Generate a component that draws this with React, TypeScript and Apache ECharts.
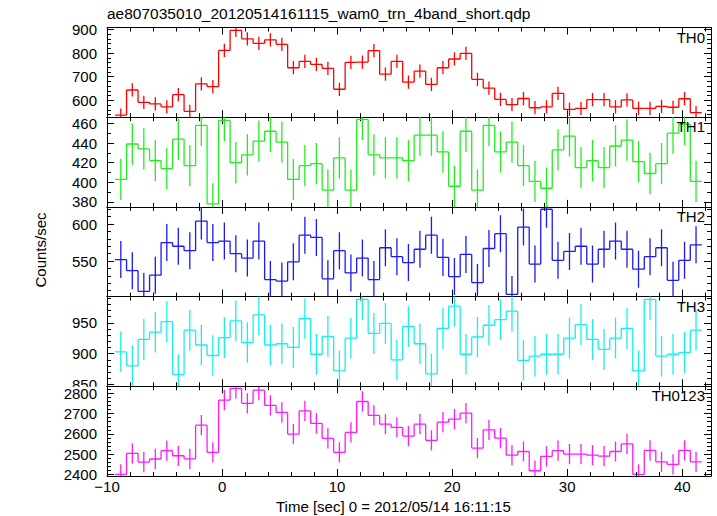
import React, { useEffect, useRef } from "react";
import * as echarts from "echarts";

// ---- data (bin centres in seconds, 1 s bins) ----
const TIME = [
  -8.8, -7.8, -6.8, -5.8, -4.8, -3.8, -2.8, -1.8, -0.8, 0.2,
  1.2, 2.2, 3.2, 4.2, 5.2, 6.2, 7.2, 8.2, 9.2, 10.2,
  11.2, 12.2, 13.2, 14.2, 15.2, 16.2, 17.2, 18.2, 19.2, 20.2,
  21.2, 22.2, 23.2, 24.2, 25.2, 26.2, 27.2, 28.2, 29.2, 30.2,
  31.2, 32.2, 33.2, 34.2, 35.2, 36.2, 37.2, 38.2, 39.2, 40.2,
  41.2,
];
const BIN_HALF = 0.5;

const TH0 = [538, 644, 592, 585, 573, 624, 554, 670, 658, 811, 896, 860, 841, 856, 837, 738, 765, 752, 735, 647, 761, 762, 810, 711, 765, 677, 724, 668, 738, 775, 799, 689, 652, 604, 582, 608, 569, 573, 630, 562, 566, 603, 603, 573, 602, 566, 566, 575, 571, 607, 548];
const TH1 = [403, 439, 434, 422, 414, 444, 417, 458, 378, 463, 420, 428, 442, 452, 441, 403, 417, 419, 392, 425, 392, 464, 428, 425, 425, 422, 448, 448, 431, 396, 452, 392, 458, 431, 441, 417, 401, 394, 433, 447, 415, 422, 415, 437, 443, 421, 409, 419, 450, 459, 401];
const TH2 = [552, 537, 509, 531, 575, 570, 564, 604, 575, 577, 560, 554, 577, 525, 523, 549, 585, 582, 526, 564, 534, 554, 525, 568, 556, 548, 566, 585, 555, 529, 559, 521, 567, 587, 505, 596, 546, 620, 551, 563, 570, 546, 566, 577, 566, 539, 556, 568, 524, 551, 572];
const TH3 = [903, 880, 923, 935, 952, 866, 938, 914, 897, 926, 953, 918, 963, 914, 916, 910, 957, 899, 928, 872, 925, 988, 933, 949, 890, 944, 916, 867, 941, 977, 899, 927, 946, 955, 969, 889, 896, 899, 899, 925, 947, 923, 907, 925, 941, 872, 988, 896, 899, 902, 938];
const TH0123 = [2400, 2504, 2461, 2476, 2517, 2492, 2477, 2643, 2509, 2767, 2825, 2751, 2816, 2741, 2706, 2599, 2714, 2652, 2578, 2509, 2607, 2760, 2691, 2648, 2632, 2589, 2648, 2568, 2658, 2673, 2703, 2530, 2620, 2579, 2495, 2513, 2418, 2489, 2517, 2500, 2500, 2495, 2490, 2513, 2551, 2400, 2519, 2462, 2449, 2519, 2462];

// approximate 1-sigma error of each band (counts/sec)
const ERR_TH0 = 28;
const ERR_TH1 = 21;
const ERR_TH2 = 25;
const ERR_TH3 = 33;
const ERR_TH0123 = 50;

// ---- ticks ----
const X_MAJOR = [-10, 0, 10, 20, 30, 40];
const X_MINOR = [-8, -6, -4, -2, 2, 4, 6, 8, 12, 14, 16, 18, 22, 24, 26, 28, 32, 34, 36, 38, 42];
const Y0_MAJOR = [600, 700, 800, 900];
const Y0_MINOR = [540, 560, 580, 620, 640, 660, 680, 720, 740, 760, 780, 820, 840, 860, 880];
const Y1_MAJOR = [380, 400, 420, 440, 460];
const Y1_MINOR = [390, 410, 430, 450];
const Y2_MAJOR = [550, 600];
const Y2_MINOR = [510, 520, 530, 540, 560, 570, 580, 590, 610, 620];
const Y3_MAJOR = [850, 900, 950];
const Y3_MINOR = [860, 870, 880, 890, 910, 920, 930, 940, 960, 970, 980, 990];
const Y4_MAJOR = [2400, 2500, 2600, 2700, 2800];
const Y4_MINOR = [2420, 2440, 2460, 2480, 2520, 2540, 2560, 2580, 2620, 2640, 2660, 2680, 2720, 2740, 2760, 2780, 2820];

const TITLE = "ae807035010_20120514161115_wam0_trn_4band_short.qdp";
const X_NAME = "Time [sec] 0 = 2012/05/14 16:11:15";
const Y_NAME = "Counts/sec";

const PANELS = [
  { label: "TH0", values: TH0, err: ERR_TH0, color: "#ff0000", min: 529, max: 908, major: Y0_MAJOR, minor: Y0_MINOR },
  { label: "TH1", values: TH1, err: ERR_TH1, color: "#22ee22", min: 375, max: 466.3, major: Y1_MAJOR, minor: Y1_MINOR },
  { label: "TH2", values: TH2, err: ERR_TH2, color: "#1a1af5", min: 502, max: 623.2, major: Y2_MAJOR, minor: Y2_MINOR },
  { label: "TH3", values: TH3, err: ERR_TH3, color: "#1aeeee", min: 847, max: 992.5, major: Y3_MAJOR, minor: Y3_MINOR },
  { label: "TH0123", values: TH0123, err: ERR_TH0123, color: "#ff1aff", min: 2392, max: 2835, major: Y4_MAJOR, minor: Y4_MINOR },
];

const FONT = "'Liberation Sans', Arial, Helvetica, sans-serif";
const GRID_LEFT = 107;
const GRID_RIGHT = 711;
const TOP0 = 27.5;
const PANEL_H = 89.7;

export default function App() {
  const ref = useRef<HTMLDivElement>(null);

  useEffect(() => {
    if (!ref.current) return;
    const chart = echarts.init(ref.current, undefined, { renderer: "svg" });

    const grids: any[] = [];
    const xAxes: any[] = [];
    const yAxes: any[] = [];
    const series: any[] = [];
    const graphics: any[] = [];

    const lineStyle = { color: "#000", width: 1 };
    const tickLine = { color: "#000", width: 1 };
    const minus = (v: number) => String(v).replace("-", "\u2212");

    PANELS.forEach((p, i) => {
      const top = TOP0 + i * PANEL_H;
      grids.push({ left: GRID_LEFT, width: GRID_RIGHT - GRID_LEFT, top, height: PANEL_H });
      const last = i === PANELS.length - 1;
      const xBase = i * 4;
      const yBase = i * 4;
      const mkX = (position: string, ticks: number[], len: number, showLine: boolean, showLabel: boolean) => ({
        type: "value",
        gridIndex: i,
        position,
        min: -10,
        max: 42.5,
        z: last ? 3 : 0,
        axisLine: { show: showLine, onZero: false, lineStyle },
        axisTick: { show: true, inside: true, length: len, customValues: ticks, lineStyle: tickLine },
        axisLabel: {
          show: showLabel,
          customValues: X_MAJOR,
          formatter: (v: number) => minus(v),
          fontFamily: FONT,
          fontSize: 15,
          color: "#000",
          margin: 3,
        },
        splitLine: { show: false },
      });
      xAxes.push(mkX("bottom", X_MAJOR, 7, true, last));
      xAxes.push(mkX("bottom", X_MINOR, 4, false, false));
      xAxes.push(mkX("top", X_MAJOR, 7, true, false));
      xAxes.push(mkX("top", X_MINOR, 4, false, false));

      const mkY = (position: string, ticks: number[], len: number, showLine: boolean, showLabel: boolean) => ({
        type: "value",
        gridIndex: i,
        position,
        min: p.min,
        max: p.max,
        z: last ? 3 : 0,
        axisLine: { show: showLine, onZero: false, lineStyle },
        axisTick: { show: true, inside: true, length: len, customValues: ticks, lineStyle: tickLine },
        axisLabel: {
          show: showLabel,
          customValues: p.major,
          formatter: (v: number) => String(v),
          fontFamily: FONT,
          fontSize: 15,
          color: "#000",
          margin: 10,
        },
        splitLine: { show: false },
      });
      yAxes.push(mkY("left", p.major, 7, true, true));
      yAxes.push(mkY("left", p.minor, 4, false, false));
      yAxes.push(mkY("right", p.major, 7, true, false));
      yAxes.push(mkY("right", p.minor, 4, false, false));

      const data = TIME.map((t, k) => [t, p.values[k], k > 0 ? p.values[k - 1] : p.values[k], p.err]);
      const color = p.color;
      series.push({
        type: "custom",
        xAxisIndex: xBase,
        yAxisIndex: yBase,
        clip: true,
        silent: true,
        dimensions: ["t", "v", "pv", "e"],
        encode: { x: 0, y: 1 },
        data,
        renderItem: (_params: any, api: any) => {
          const t = api.value(0);
          const v = api.value(1);
          const pv = api.value(2);
          const e = api.value(3);
          const a = api.coord([t - BIN_HALF, v]);
          const b = api.coord([t + BIN_HALF, v]);
          const pp = api.coord([t - BIN_HALF, pv]);
          const lo = api.coord([t, v - e]);
          const hi = api.coord([t, v + e]);
          const st = { stroke: color, lineWidth: 1.3 };
          return {
            type: "group",
            children: [
              { type: "line", shape: { x1: pp[0], y1: pp[1], x2: a[0], y2: a[1] }, style: st },
              { type: "line", shape: { x1: a[0], y1: a[1], x2: b[0], y2: b[1] }, style: st },
              { type: "line", shape: { x1: lo[0], y1: lo[1], x2: hi[0], y2: hi[1] }, style: st },
            ],
          };
        },
      });

      graphics.push({
        type: "text",
        right: 717 - 705,
        top: top + 2,
        z: 10,
        style: { text: p.label, font: `15px ${FONT}`, fill: "#000", textAlign: "right" },
      });
    });

    // the bottom label of TH3 is cut by the next panel
    graphics.push({
      type: "rect",
      shape: { x: 40, y: TOP0 + 4 * PANEL_H + 0.5, width: 62, height: 6 },
      style: { fill: "#fff" },
      z: 1,
    });

    graphics.push({
      type: "text",
      left: GRID_LEFT,
      top: 5,
      z: 10,
      style: { text: TITLE, font: `15.5px ${FONT}`, fill: "#000" },
    });
    graphics.push({
      type: "text",
      left: 276,
      top: 499,
      z: 10,
      style: { text: X_NAME, font: `15px ${FONT}`, fill: "#000" },
    });
    graphics.push({
      type: "text",
      x: 40,
      y: 250,
      rotation: Math.PI / 2,
      z: 10,
      style: { text: Y_NAME, font: `15px ${FONT}`, fill: "#000", textAlign: "center", textVerticalAlign: "middle" },
    });

    chart.setOption({
      animation: false,
      backgroundColor: "#fff",
      grid: grids,
      xAxis: xAxes,
      yAxis: yAxes,
      series,
      graphic: graphics,
    });

    return () => chart.dispose();
  }, []);

  return <div ref={ref} style={{ position: "absolute", left: 0, top: 0, width: 717, height: 516 }} />;
}
